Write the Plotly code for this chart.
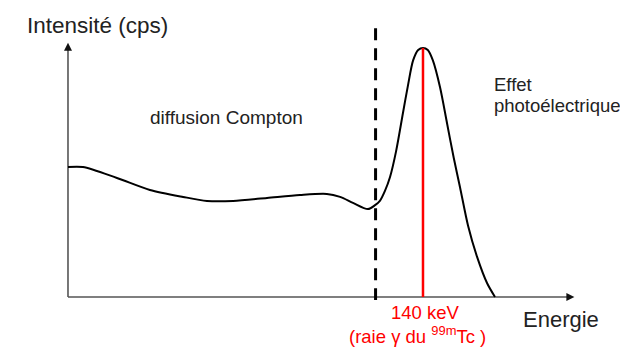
import plotly.graph_objects as go

# Spectrum (energy in keV, intensity in arbitrary units, peak = 100)
energy = [0.0, 5.9, 19.3, 32.3, 45.4, 54.8, 65.1, 78.5, 91.5, 102.1, 107.3, 112.4,
          118.3, 121.1, 123.0, 125.0, 127.0, 129.4, 132.1, 134.1, 136.1, 138.1, 140.0,
          141.9, 143.9, 146.7, 149.5, 152.1, 154.6, 157.8, 161.3, 165.3, 168.4]
intensity = [52.2, 52.2, 47.8, 43.0, 40.2, 38.6, 38.6, 39.8, 41.0, 41.4, 40.2, 37.8,
             35.3, 36.9, 38.6, 42.6, 48.2, 58.6, 73.9, 85.1, 95.0, 99.2, 100.0,
             99.2, 95.0, 84.3, 69.7, 56.0, 44.1, 28.5, 16.2, 5.5, 0.0]

compton_edge = 121.3
photopeak = 140.0

y_max_axis = 102.1
x_max_axis = 199.7

fig = go.Figure()

axis_col = "#555555"
# axes lines
fig.add_trace(go.Scatter(x=[0, 0], y=[0, y_max_axis - 1.5], mode="lines",
                         line=dict(color=axis_col, width=1.6), hoverinfo="skip", showlegend=False))
fig.add_trace(go.Scatter(x=[0, x_max_axis - 1.5], y=[0, 0], mode="lines",
                         line=dict(color=axis_col, width=1.6), hoverinfo="skip", showlegend=False))
# arrowheads
fig.add_trace(go.Scatter(x=[0], y=[y_max_axis], mode="markers",
                         marker=dict(symbol="arrow-up", size=8, color="#111111", line=dict(width=0)),
                         hoverinfo="skip", showlegend=False))
fig.add_trace(go.Scatter(x=[x_max_axis], y=[0], mode="markers",
                         marker=dict(symbol="arrow-right", size=8, color="#111111", line=dict(width=0)),
                         hoverinfo="skip", showlegend=False))

fig.add_trace(go.Scatter(x=energy, y=intensity, mode="lines",
                         line=dict(color="black", width=2, shape="spline", smoothing=0.8),
                         hoverinfo="skip", showlegend=False))

# dashed Compton edge line (drawn top -> bottom so the pattern starts at the top)
fig.add_trace(go.Scatter(x=[compton_edge, compton_edge], y=[107.9, -1.2], mode="lines",
                         line=dict(color="black", width=3, dash="12px,8px"),
                         hoverinfo="skip", showlegend=False))

# photopeak line
fig.add_trace(go.Scatter(x=[photopeak, photopeak], y=[0, 100], mode="lines",
                         line=dict(color="#ff0000", width=2.5),
                         hoverinfo="skip", showlegend=False))

font = "Liberation Sans, Arial, sans-serif"
txt = "#222222"
red = "#ff0000"
fig.add_annotation(x=-16.96, y=109.2, text="Intensité (cps)", showarrow=False,
                   xanchor="left", yanchor="middle", font=dict(family=font, size=22.5, color=txt))
fig.add_annotation(x=31.67, y=72.1, text="diffusion Compton", showarrow=False,
                   xanchor="left", yanchor="middle", font=dict(family=font, size=19, color=txt))
fig.add_annotation(x=167.1, y=85.2, text="Effet", showarrow=False,
                   xanchor="left", yanchor="middle", font=dict(family=font, size=18.5, color=txt))
fig.add_annotation(x=167.1, y=77.1, text="photoélectrique", showarrow=False,
                   xanchor="left", yanchor="middle", font=dict(family=font, size=18.5, color=txt))
fig.add_annotation(x=141.0, y=-6.3, text="140 keV", showarrow=False,
                   xanchor="center", yanchor="middle", font=dict(family=font, size=18.5, color=red))
fig.add_annotation(x=137.8, y=-15.3, text="(raie γ du <sup>99m</sup>Tc )", showarrow=False,
                   xanchor="center", yanchor="middle", font=dict(family=font, size=18.5, color=red))
fig.add_annotation(x=178.6, y=-9.0, text="Energie", showarrow=False,
                   xanchor="left", yanchor="middle", font=dict(family=font, size=22, color=txt))

fig.update_layout(width=620, height=339, margin=dict(l=0, r=0, t=0, b=0),
                  paper_bgcolor="white", plot_bgcolor="white",
                  xaxis=dict(range=[-23.66, 220.85], visible=False, fixedrange=True),
                  yaxis=dict(range=[-20.08, 116.06], visible=False, fixedrange=True))

fig.write_html("out.html")
